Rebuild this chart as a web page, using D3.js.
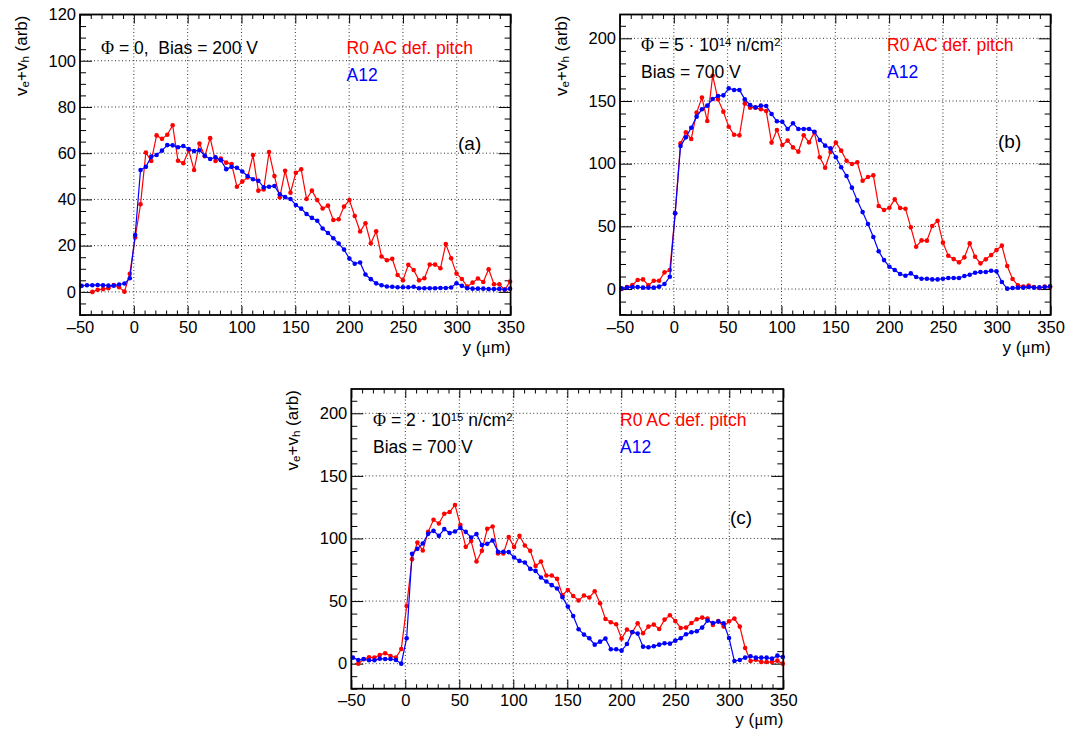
<!DOCTYPE html>
<html><head><meta charset="utf-8">
<script src="https://cdn.jsdelivr.net/npm/d3@7"></script>
<style>
body{margin:0;background:#fff}
svg{display:block}
text{font-family:"Liberation Sans",Arial,Helvetica,sans-serif;white-space:pre}
</style>
</head><body>
<svg id="chart" width="1069" height="731"></svg>
<script>
// ---------- data ----------
const scanStart = -48.5, scanStep = 4.975, scanCount = 81;   // y positions of the scan (µm)
const xTickValues = [-50, 0, 50, 100, 150, 200, 250, 300, 350];
const xTickLabels = ["\u201350", "0", "50", "100", "150", "200", "250", "300", "350"];
const yTicksA = [0, 20, 40, 60, 80, 100, 120];
const yTicksBC = [0, 50, 100, 150, 200];
const seriesNames = ["R0 AC def. pitch", "A12"];

const redA = [null, null,
  0.0, 0.9, 1.2, 1.6, 3.0, 2.0, 0.1, 7.8,
  23.5, 37.9, 60.3, 56.6, 67.7, 66.2, 68.0, 72.1, 56.7, 55.7,
  61.3, 52.7, 64.2, 58.7, 66.5, 56.6, 57.7, 55.9, 55.3, 45.5,
  47.7, 49.5, 59.2, 43.8, 44.3, 60.5, 50.1, 40.9, 52.4, 42.9,
  51.5, 53.0, 40.2, 43.8, 39.7, 36.1, 37.3, 31.1, 31.4, 36.9,
  39.7, 32.8, 26.1, 29.7, 21.0, 26.2, 15.3, 13.7, 14.3, 7.3,
  5.0, 11.7, 9.5, 5.0, 5.9, 11.8, 11.8, 10.2, 20.7, 14.5,
  7.9, 5.6, 2.3, 4.0, 5.8, 4.3, 9.8, 3.3, 3.3, 0.9, 4.5];
const blueA = [
  2.6, 2.9, 2.9, 3.0, 2.9, 2.7, 2.7, 3.2, 3.6, 5.9,
  24.6, 52.7, 54.1, 58.5, 59.2, 61.1, 63.5, 63.4, 62.6, 63.1,
  61.8, 60.9, 61.3, 58.9, 57.5, 58.2, 57.0, 53.1, 54.1, 53.7,
  52.1, 50.1, 48.7, 48.1, 45.2, 45.5, 45.8, 42.2, 41.0, 40.2,
  37.6, 36.0, 33.7, 32.0, 30.8, 27.4, 25.5, 23.2, 20.9, 18.3,
  14.4, 12.2, 12.7, 7.5, 5.5, 3.7, 2.9, 2.3, 2.2, 2.0,
  2.0, 2.0, 2.2, 1.6, 1.6, 1.6, 1.6, 1.7, 1.7, 1.9,
  3.7, 2.6, 1.6, 1.4, 1.4, 1.4, 1.2, 1.2, 1.3, 1.0, 1.4];

const redB = [
  0.0, 1.6, 3.2, 7.2, 7.7, 2.9, 6.6, 6.6, 13.3, 15.2,
  60.4, 116.2, 125.0, 119.7, 140.7, 152.7, 134.0, 170.2, 151.3, 141.5,
  129.5, 123.1, 122.6, 148.1, 144.7, 144.7, 143.4, 142.0, 116.8, 126.9,
  114.9, 118.4, 113.0, 109.6, 122.6, 117.0, 125.0, 105.1, 96.8, 109.3,
  116.8, 110.4, 102.4, 99.7, 101.1, 86.4, 89.4, 90.7, 66.2, 63.0,
  64.9, 71.5, 64.6, 64.1, 49.2, 33.8, 38.8, 38.6, 50.3, 54.5,
  37.0, 26.6, 23.9, 21.3, 25.3, 36.4, 25.8, 20.5, 23.7, 27.1,
  31.1, 34.6, 18.4, 8.0, 2.9, 1.9, 2.7, 1.6, 0.8, 1.9, 1.6];
const blueB = [
  0.5, 1.1, 1.6, 1.6, 1.1, 1.1, 1.1, 1.9, 4.0, 9.8,
  60.4, 114.1, 121.0, 128.7, 137.5, 143.4, 146.3, 151.6, 154.0, 154.5,
  160.1, 158.8, 158.8, 151.3, 146.8, 144.9, 146.3, 146.0, 139.6, 133.8,
  133.5, 127.7, 132.2, 127.7, 127.7, 127.7, 125.5, 118.9, 114.4, 112.2,
  105.1, 97.1, 90.2, 80.9, 70.7, 61.4, 51.9, 41.5, 30.1, 23.1,
  17.8, 15.2, 12.0, 10.6, 12.5, 9.6, 8.2, 8.2, 7.7, 7.7,
  8.2, 8.8, 8.8, 8.8, 10.4, 11.4, 13.0, 13.6, 13.6, 14.6,
  14.1, 5.6, 0.3, 0.8, 1.1, 1.1, 1.6, 1.1, 1.3, 1.6, 2.1];

const redC = [null,
  0.0, 3.5, 5.1, 4.8, 6.9, 8.3, 6.1, 4.8, 11.7,
  46.1, 83.5, 96.8, 90.4, 105.3, 114.9, 112.0, 119.7, 121.1, 126.7,
  110.7, 93.3, 97.9, 81.6, 90.1, 107.7, 109.6, 88.0, 88.0, 101.1,
  93.1, 102.1, 94.4, 90.1, 78.1, 81.6, 70.4, 70.4, 67.7, 54.7,
  58.9, 54.1, 50.4, 54.4, 52.8, 57.9, 48.3, 35.7, 33.1, 31.5,
  20.0, 27.2, 25.1, 32.3, 24.3, 29.6, 31.2, 27.7, 35.2, 38.7,
  34.1, 28.5, 28.8, 32.5, 35.5, 36.8, 36.0, 30.9, 34.1, 29.6,
  33.9, 36.0, 29.6, 12.5, 2.1, 3.2, 1.3, 1.3, 1.3, 2.4, 0.0];
const blueC = [
  4.8, 2.9, 3.7, 2.7, 2.7, 4.0, 3.7, 3.7, 2.9, 0.0,
  20.3, 87.7, 91.7, 96.0, 103.7, 106.1, 102.1, 107.5, 104.3, 105.6,
  108.5, 105.3, 100.8, 103.5, 94.7, 95.7, 98.4, 89.3, 89.3, 89.1,
  84.8, 82.1, 80.8, 75.7, 74.1, 68.8, 65.6, 62.7, 60.0, 53.1,
  45.6, 38.1, 27.5, 23.2, 20.3, 15.2, 17.6, 20.0, 11.5, 11.5,
  10.4, 15.7, 25.3, 24.0, 13.6, 13.1, 13.9, 15.2, 16.3, 16.0,
  18.4, 20.3, 23.5, 25.1, 25.9, 28.8, 34.4, 32.5, 33.6, 32.3,
  20.5, 2.1, 2.9, 4.8, 5.9, 4.8, 4.8, 4.8, 4.0, 6.4, 5.3];

// ---------- layout / style ----------
const RED = "#ff0000", BLUE = "#0000ff";
const svg = d3.select("#chart");
const positions = d3.range(scanCount).map(i => scanStart + i * scanStep);

const panels = [
  { left: 80, right: 510.6, top: 14.5, bottom: 315, yDomain: [-10, 120], yTicks: yTicksA, yMinor: 5,
    red: redA, blue: blueA, tag: "(a)", tagPos: [458, 150], titleOff: 32,
    lines: [[{t: "\u03A6", serif: true}, {t: " = 0,  Bias = 200 V"}]],
    linePos: [[101, 54]], legX: 346.5, legY: [54, 81] },
  { left: 620, right: 1050.6, top: 14.5, bottom: 315, yDomain: [-20.7, 219], yTicks: yTicksBC, yMinor: 10,
    red: redB, blue: blueB, tag: "(b)", tagPos: [998, 148], titleOff: 32,
    lines: [[{t: "\u03A6", serif: true}, {t: " = 5 \u00B7 10"}, {t: "14", sup: true}, {t: " n/cm"}, {t: "2", sup: true}],
            [{t: "Bias = 700 V"}]],
    linePos: [[641, 51], [641, 78]], legX: 887, legY: [51, 78] },
  { left: 351.3, right: 783.3, top: 389, bottom: 688.7, yDomain: [-20, 219.4], yTicks: yTicksBC, yMinor: 10,
    red: redC, blue: blueC, tag: "(c)", tagPos: [730, 524], titleOff: 30,
    lines: [[{t: "\u03A6", serif: true}, {t: " = 2 \u00B7 10"}, {t: "15", sup: true}, {t: " n/cm"}, {t: "2", sup: true}],
            [{t: "Bias = 700 V"}]],
    linePos: [[373, 426], [373, 452.7]], legX: 620, legY: [426, 452.7] }
];

function richText(sel, parts, size) {
  parts.forEach(p => {
    const ts = sel.append("tspan").text(p.t);
    if (p.serif) ts.attr("font-family", "Liberation Serif, Times New Roman, serif").attr("font-size", size * 1.02);
    if (p.sup) ts.attr("font-size", size * 0.65).attr("baseline-shift", "50%");
    if (p.sub) ts.attr("font-size", size * 0.68).attr("baseline-shift", "-30%");
  });
}

function drawPanel(cfg) {
  const x = d3.scaleLinear().domain([-50, 350]).range([cfg.left, cfg.right]);
  const y = d3.scaleLinear().domain(cfg.yDomain).range([cfg.bottom, cfg.top]);
  const g = svg.append("g");
  const W = cfg.right - cfg.left, H = cfg.bottom - cfg.top;

  // grid
  const grid = g.append("g").attr("stroke", "#000").attr("stroke-width", 0.9)
    .attr("stroke-dasharray", "1,2.5").attr("opacity", 0.9);
  grid.selectAll(".gx").data(xTickValues.filter(v => v > -50 && v < 350)).join("line")
    .attr("x1", d => x(d)).attr("x2", d => x(d)).attr("y1", cfg.top).attr("y2", cfg.bottom);
  grid.selectAll(".gy").data(cfg.yTicks.filter(v => y(v) > cfg.top + 1)).join("line")
    .attr("y1", d => y(d)).attr("y2", d => y(d)).attr("x1", cfg.left).attr("x2", cfg.right);

  // axes
  const xMinor = d3.range(-50, 351, 10).filter(v => v % 50 !== 0);
  const yMinor = d3.range(Math.ceil(cfg.yDomain[0] / cfg.yMinor) * cfg.yMinor, cfg.yDomain[1], cfg.yMinor)
    .filter(v => !cfg.yTicks.includes(v));
  const fmtX = d => xTickLabels[xTickValues.indexOf(d)];

  const axes = [
    [d3.axisBottom(x).tickValues(xTickValues).tickSize(-9).tickPadding(6).tickFormat(fmtX), `translate(0,${cfg.bottom})`],
    [d3.axisBottom(x).tickValues(xMinor).tickSize(-4.5).tickFormat(""), `translate(0,${cfg.bottom})`],
    [d3.axisTop(x).tickValues(xTickValues).tickSize(-9).tickFormat(""), `translate(0,${cfg.top})`],
    [d3.axisTop(x).tickValues(xMinor).tickSize(-4.5).tickFormat(""), `translate(0,${cfg.top})`],
    [d3.axisLeft(y).tickValues(cfg.yTicks).tickSize(-12).tickPadding(4).tickFormat(d3.format("d")), `translate(${cfg.left},0)`],
    [d3.axisLeft(y).tickValues(yMinor).tickSize(-6).tickFormat(""), `translate(${cfg.left},0)`],
    [d3.axisRight(y).tickValues(cfg.yTicks).tickSize(-12).tickFormat(""), `translate(${cfg.right},0)`],
    [d3.axisRight(y).tickValues(yMinor).tickSize(-6).tickFormat(""), `translate(${cfg.right},0)`]
  ];
  axes.forEach(([ax, tr]) => {
    const a = g.append("g").attr("transform", tr).call(ax.tickSizeOuter(0));
    a.select(".domain").remove();
    a.selectAll(".tick line").attr("stroke", "#000").attr("stroke-width", 1);
    a.selectAll(".tick text").attr("fill", "#000").attr("font-size", 16.5)
      .attr("font-family", "Liberation Sans, Arial, sans-serif");
  });

  // series
  const series = [{vals: cfg.red, color: RED}, {vals: cfg.blue, color: BLUE}];
  const line = d3.line().x(d => x(d[0])).y(d => y(d[1]));
  series.forEach(s => {
    const pts = positions.map((p, i) => [p, s.vals[i]]).filter(d => d[1] !== null);
    g.append("path").datum(pts).attr("d", line).attr("fill", "none")
      .attr("stroke", s.color).attr("stroke-width", 1.2);
    g.append("g").selectAll("circle").data(pts).join("circle")
      .attr("cx", d => x(d[0])).attr("cy", d => y(d[1])).attr("r", 2.3).attr("fill", s.color);
  });

  // frame
  g.append("rect").attr("x", cfg.left).attr("y", cfg.top).attr("width", W).attr("height", H)
    .attr("fill", "none").attr("stroke", "#000").attr("stroke-width", 1.8);

  // axis titles
  g.append("text").attr("x", cfg.right).attr("y", cfg.bottom + cfg.titleOff)
    .attr("text-anchor", "end").attr("dominant-baseline", "central").attr("font-size", 17)
    .call(t => richText(t, [{t: "y ("}, {t: "\u03BC", serif: true}, {t: "m)"}], 17));
  g.append("text").attr("transform", `translate(${cfg.left - 59.5},${cfg.top + 1}) rotate(-90)`)
    .attr("text-anchor", "end").attr("dominant-baseline", "central").attr("font-size", 17)
    .call(t => richText(t, [{t: "v"}, {t: "e", sub: true}, {t: "+v"}, {t: "h", sub: true}, {t: " (arb)"}], 17));

  // annotations
  cfg.lines.forEach((parts, i) => {
    g.append("text").attr("x", cfg.linePos[i][0]).attr("y", cfg.linePos[i][1])
      .attr("font-size", 17.5).attr("fill", "#000").call(t => richText(t, parts, 17.5));
  });
  [RED, BLUE].forEach((c, i) => {
    g.append("text").attr("x", cfg.legX).attr("y", cfg.legY[i]).attr("font-size", 17.5)
      .attr("fill", c).text(seriesNames[i]);
  });
  g.append("text").attr("x", cfg.tagPos[0]).attr("y", cfg.tagPos[1]).attr("font-size", 19)
    .attr("fill", "#000").text(cfg.tag);
}

panels.forEach(drawPanel);
</script>
</body></html>
